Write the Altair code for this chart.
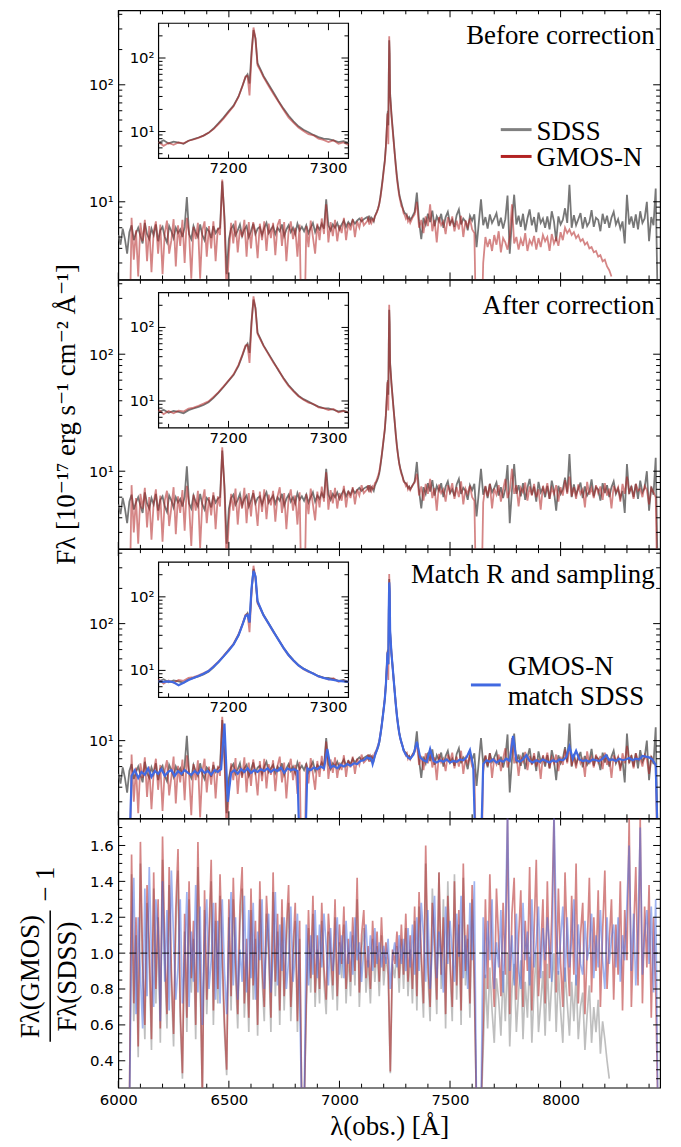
import math
import altair as alt
import pandas as pd

N = None

# ---------------- wavelength grids (Angstrom) ----------------
WAVE_A = list(range(6000, 7111, 15))                       # 75 points (matched spectrum)
WAVE_B = (list(range(7125, 7196, 5))                         # 15 points
          + [7200, 7205, 7210, 7214, 7217, 7219, 7221, 7223, 7225,
             7227, 7229, 7232, 7235, 7240, 7245]             # 15 points
          + list(range(7250, 7321, 5)))                      # 15 points
WAVE_C = list(range(7335, 8446, 15))                         # 75 points (matched spectrum)
WAVE = WAVE_A + WAVE_B + WAVE_C                              # grid of the matched spectrum
WAVE_A10 = list(range(6000, 7111, 10))                       # 112 points
WAVE_C10 = list(range(7330, 8441, 10))                       # 112 points
WAVE_D = WAVE_A10 + WAVE_B + WAVE_C10                        # grid of SDSS / GMOS spectra
RWAVE = list(range(6000, 8441, 10))                          # ratio grid, 245 points

# ---------------- fluxes (1e-17 erg/s/cm2/A), on WAVE_D ----------------
SDSS = [
    # 6000-7110 (10 A)
    5.2, 4.3, 5.9, 4.8, 3.6, 5.5, 6.3, 4.7, 5.4, 6.0, 5.1, 4.4, 6.6, 5.3,
    4.8, 5.9, 5.2, 6.4, 4.6, 5.7, 6.1, 5.0, 4.5, 6.2, 5.6, 4.9, 6.0, 5.4,
    5.8, 5.0, 6.1, 11.0, 5.3, 4.8, 6.2, 5.5, 5.0, 6.4, 5.2, 4.7, 5.9, 5.6,
    4.9, 6.2, 5.4, 5.8, 6.0, 15.0, 7.5, 2.4, 4.8, 5.9, 6.3, 5.2, 5.7, 6.4,
    5.1, 5.8, 6.2, 5.0, 5.6, 6.5, 5.3, 5.9, 6.1, 5.2, 6.0, 6.6, 5.4, 5.8,
    6.2, 5.3, 6.0, 5.6, 6.4, 5.1, 5.8, 6.3, 5.5, 6.0, 5.3, 6.5, 5.7, 6.1,
    5.6, 6.3, 5.4, 6.0, 6.6, 5.5, 6.2, 5.8, 6.5, 5.9, 10.5, 6.3, 5.7, 6.4,
    6.0, 6.6, 5.8, 6.4, 6.9, 6.1, 6.7, 6.3, 7.0, 6.5, 6.9, 7.2, 6.8, 7.1,
    # 7125-7320 (line core)
    7.4, 7.0, 7.6, 6.9, 7.3, 7.1, 6.8, 7.5, 7.9, 8.3, 8.8, 9.6, 11.0, 13.0, 15.5,
    18.8, 22.5, 30.0, 42.0, 55.0, 60.0, 45.0, 120.0, 240.0, 185.0, 85.0, 70.0, 57.0, 44.0, 34.0,
    26.0, 20.5, 16.5, 13.8, 11.8, 10.6, 9.8, 9.0, 8.4, 8.0, 7.9, 7.6, 7.2, 7.4, 7.0,
    # 7330-8440 (10 A)
    7.5, 8.2, 12.0, 6.8, 4.8, 7.3, 6.4, 7.9, 6.7, 8.4, 6.2, 7.5, 6.8, 7.9,
    6.0, 7.4, 8.2, 6.5, 7.0, 6.1, 7.7, 8.6, 6.4, 7.2, 6.8, 5.7, 7.6, 6.9,
    7.8, 4.1, 6.6, 10.5, 6.3, 7.4, 5.9, 7.8, 6.6, 7.2, 8.0, 6.2, 7.3, 5.9,
    7.1, 11.3, 3.6, 6.9, 11.5, 6.4, 7.6, 6.1, 7.9, 5.7, 7.2, 8.6, 6.3, 7.4,
    5.5, 8.1, 6.6, 7.2, 6.0, 7.5, 5.8, 8.3, 6.8, 4.6, 7.5, 6.4, 7.0, 8.8,
    6.6, 14.0, 6.0, 7.7, 6.3, 7.1, 8.0, 5.9, 7.4, 6.2, 6.7, 8.5, 6.1, 7.3,
    7.0, 5.6, 7.9, 6.5, 7.6, 6.0, 7.3, 8.2, 6.4, 7.1, 5.9, 6.8, 4.4, 11.5,
    6.4, 7.5, 6.0, 7.8, 5.8, 8.3, 6.6, 7.2, 10.0, 4.6, 7.4, 6.3, 13.0, 1.0,
]

GMOS_BEFORE = [
    N, N, N, N, N, 0.5, 7.3, 3.2, 5.7, 2.3, 6.6, 4.6, 7.0, 3.1,
    6.2, 2.5, 5.6, 6.8, 3.6, 6.4, 2.4, 5.4, 6.9, 3.6, 4.7, 7.1, 2.8, 6.3,
    4.2, 7.0, 3.0, 7.3, 5.4, 2.2, 6.1, 4.8, 6.6, 2.2, 5.7, 6.8, 3.4, 6.2,
    4.0, 6.8, 3.1, 6.0, 5.2, 15.5, 6.8, 1.5, 3.6, 6.6, 4.4, 6.9, 3.7, 5.8,
    5.0, 7.0, 3.4, 6.7, 4.0, 6.7, 5.5, 3.3, 6.5, 4.7, 6.8, 3.8, 6.5, 4.9,
    6.6, 3.5, 6.3, 7.1, 4.2, 6.7, 3.1, 5.6, 6.8, 4.8, 6.0, 3.4, 6.4, 0.5,
    0.5, 6.2, 4.1, 6.9, 5.0, 3.6, 6.5, 4.7, 7.2, 5.3, 9.5, 4.5, 6.7, 5.1,
    7.0, 4.6, 6.3, 5.4, 7.3, 4.7, 6.6, 5.7, 7.1, 5.0, 6.8, 6.0, 7.4, 6.3,
    6.8, 7.2, 6.4, 7.0, 6.6, 7.1, 6.9, 7.5, 7.8, 8.2, 8.8, 9.6, 10.8, 12.6, 15.0,
    18.2, 22.0, 29.5, 42.0, 56.0, 57.0, 31.0, 105.0, 260.0, 180.0, 80.0, 67.0, 55.0, 42.0, 32.5,
    25.5, 19.8, 15.6, 13.2, 11.3, 10.2, 9.2, 8.9, 8.0, 7.7, 7.2, 7.6, 6.8, 7.1, 6.6,
    7.3, 7.8, 10.0, 6.0, 7.0, 5.4, 7.5, 6.2, 9.5, 5.6, 7.0, 4.5, 7.4, 6.3,
    6.8, 5.3, 7.4, 6.2, 7.5, 5.6, 6.9, 5.8, 7.6, 5.0, 6.9, 6.1, 7.2, 5.8,
    5.4, 0.5, 0.5, 0.5, 3.0, 5.0, 4.1, 4.8, 3.8, 5.2, 4.3, 5.6, 3.7, 4.9,
    4.5, 3.9, 5.0, 9.5, 4.4, 5.0, 3.9, 4.8, 4.2, 5.4, 3.8, 4.7, 4.3, 5.1,
    3.9, 4.9, 4.1, 5.2, 4.6, 5.0, 3.8, 5.3, 4.4, 4.9, 4.2, 5.5, 4.7, 6.0,
    5.4, 5.8, 5.2, 5.5, 4.9, 5.2, 4.6, 4.8, 4.3, 4.5, 4.0, 4.1, 3.7, 3.8,
    3.4, 3.5, 3.1, 3.2, 2.8, 2.6, 2.3, N, N, N, N, N, N, N,
    N, N, N, N, N, N, N, N, N, N, N, N, N, N,
]

GMOS_AFTER = [
    N, N, N, N, N, 0.5, 7.6, 3.0, 5.9, 2.4, 6.4, 4.8, 7.2, 3.3,
    6.0, 2.6, 5.4, 7.0, 3.8, 6.2, 2.5, 5.6, 6.8, 3.4, 4.9, 7.3, 2.9, 6.1,
    4.4, 6.9, 3.1, 7.5, 5.2, 2.3, 6.3, 4.6, 6.8, 2.2, 5.5, 7.0, 3.6, 6.0,
    4.2, 6.6, 3.2, 6.1, 5.0, 16.0, 7.0, 1.5, 3.8, 6.4, 4.6, 7.1, 3.5, 6.0,
    4.8, 7.2, 3.6, 6.5, 4.1, 6.9, 5.3, 3.4, 6.7, 4.5, 7.0, 3.9, 6.3, 5.1,
    6.8, 3.7, 6.1, 7.3, 4.4, 6.5, 3.2, 5.8, 7.0, 4.6, 6.2, 3.5, 6.6, 0.5,
    0.5, 6.4, 4.3, 7.1, 5.2, 3.8, 6.7, 4.9, 7.4, 5.5, 9.8, 4.7, 6.9, 5.3,
    7.2, 4.8, 6.5, 5.6, 7.5, 4.9, 6.8, 5.9, 7.3, 5.2, 7.0, 6.2, 7.6, 6.5,
    7.0, 7.6, 6.6, 7.3, 6.8, 7.4, 7.2, 7.9, 8.1, 8.6, 9.2, 9.9, 11.4, 13.2, 15.8,
    19.0, 23.0, 31.0, 43.0, 57.0, 58.0, 33.0, 110.0, 265.0, 175.0, 82.0, 68.0, 56.0, 43.0, 33.0,
    26.5, 20.0, 16.0, 13.5, 11.6, 10.4, 9.5, 9.1, 8.2, 8.0, 7.5, 7.8, 7.0, 7.3, 6.9,
    7.6, 8.0, 9.5, 6.2, 7.4, 5.6, 7.8, 6.4, 8.6, 5.9, 7.2, 4.6, 7.7, 6.5,
    7.0, 5.5, 7.6, 6.6, 7.9, 5.8, 7.3, 6.0, 8.2, 5.2, 7.1, 6.4, 7.5, 6.0,
    5.6, 0.5, 0.5, 0.5, 5.4, 7.5, 6.1, 7.8, 4.8, 7.1, 6.3, 7.6, 5.5, 7.0,
    8.6, 5.9, 6.8, 10.5, 6.4, 7.6, 5.0, 7.2, 6.6, 8.0, 5.6, 7.4, 6.2, 7.8,
    6.0, 7.0, 4.7, 7.5, 6.5, 7.9, 5.8, 7.2, 6.4, 7.6, 5.5, 7.3, 6.2, 8.4,
    6.4, 9.0, 6.1, 7.3, 5.8, 7.7, 6.4, 7.0, 4.9, 8.1, 6.3, 7.2, 5.9, 7.6,
    6.5, 7.4, 5.7, 7.9, 6.2, 7.1, 4.8, 7.5, 6.6, 7.3, 5.5, 7.8, 6.4, 9.0,
    6.6, 7.3, 5.8, 7.8, 6.8, 7.1, 6.0, 7.5, 6.9, 5.2, 7.2, 6.6, 6.0, 0.5,
]

# matched-resolution GMOS spectrum, on WAVE (15 A steps outside the line core)
GMOS_MATCHED = [
    N, N, N, 0.5, 5.0, 5.6, 4.8, 5.4, 5.1, 5.8, 4.9, 5.5, 5.2, 5.7, 5.0,
    5.4, 5.6, 5.0, 5.5, 5.2, 5.6, 5.3, 5.1, 5.5, 5.2, 5.7, 5.3, 5.5, 5.1, 5.6,
    5.4, 5.7, 14.0, 3.0, 5.3, 5.6, 5.2, 5.7, 5.4, 5.8, 5.3, 5.6, 5.4, 5.7, 5.5,
    5.8, 5.4, 5.7, 5.5, 5.9, 5.3, 5.8, 5.6, 5.7, 5.5, 0.5, 0.5, 5.8, 5.6, 5.9,
    5.7, 6.0, 5.8, 8.5, 5.9, 6.1, 5.8, 6.2, 6.0, 6.3, 6.1, 6.4, 6.3, 6.7, 6.8,
    7.2, 7.1, 7.0, 7.1, 6.9, 6.3, 6.8, 7.4, 7.9, 8.4, 9.0, 9.8, 11.2, 13.0, 15.5,
    18.5, 22.5, 30.0, 42.0, 55.0, 57.0, 45.0, 130.0, 225.0, 190.0, 88.0, 70.0, 56.0, 43.5, 33.5,
    26.0, 20.2, 16.2, 13.6, 11.7, 10.5, 9.7, 9.0, 8.3, 7.9, 7.6, 7.4, 7.2, 7.1, 7.0,
    7.6, 9.8, 7.2, 6.8, 6.6, 8.5, 6.7, 6.5, 6.8, 6.6, 6.9, 6.5, 6.7, 6.6, 6.9,
    6.8, 7.2, 8.3, 6.0, 0.5, 0.5, 6.3, 6.8, 6.6, 6.9, 6.5, 6.8, 6.6, 7.0, 6.7,
    11.0, 6.8, 6.6, 6.9, 7.5, 6.7, 6.5, 6.8, 6.6, 6.9, 6.7, 6.5, 6.8, 6.6, 6.9,
    6.8, 7.2, 8.9, 7.0, 8.2, 6.9, 6.7, 6.8, 6.6, 6.9, 6.8, 6.7, 7.0, 7.5, 6.8,
    6.9, 6.7, 7.0, 6.8, 6.9, 7.1, 6.8, 7.0, 6.9, 7.4, 7.3, 7.2, 6.9, 6.2, 0.5,
]

# ---------------- flux ratios GMOS / SDSS (on RWAVE) ----------------
RATIO_BEFORE = [
    N, N, N, N, N, 0.1, 1.44, 0.62, 1.10, 0.42, 1.50, 0.88, 0.52, 1.28, 0.96,
    0.46, 1.36, 0.72, 1.20, 0.50, 1.52, 0.94, 0.58, 1.38, 0.82, 0.48, 1.14, 1.46, 0.62, 0.30,
    1.12, 0.56, 1.30, 0.78, 1.08, 0.52, 1.48, 0.84, 0.2, 1.24, 0.66, 1.02, 1.40, 0.60, 1.18,
    0.72, 1.32, 0.92, 0.56, 0.32, 1.20, 0.68, 1.30, 0.88, 0.58, 1.16, 1.36, 0.64, 1.00, 0.56,
    1.24, 0.74, 1.08, 0.54, 1.30, 0.86, 0.62, 1.22, 0.98, 0.56, 1.34, 0.76, 1.12, 0.60, 1.20,
    0.68, 1.04, 1.28, 0.62, 0.94, 1.18, 0.56, 1.08, 0.1, 0.1, 0.68, 1.14, 0.78, 1.22, 0.70,
    1.02, 0.72, 1.18, 0.84, 0.66, 1.12, 0.94, 0.74, 1.20, 0.68, 1.06, 0.86, 1.16, 0.72, 1.00,
    0.76, 1.10, 0.82, 1.30, 0.70, 1.02, 1.14, 0.78, 0.96, 0.72, 1.08, 0.84, 1.04, 0.76, 1.10,
    0.82, 0.98, 0.88, 0.33, 0.94, 0.86, 1.04, 0.78, 1.08, 0.80, 1.14, 0.76, 1.02, 0.72, 1.18,
    0.68, 1.26, 0.92, 0.64, 1.50, 0.88, 0.62, 1.36, 1.00, 0.66, 1.45, 0.80, 1.30, 0.58, 1.40,
    0.90, 0.62, 1.44, 0.74, 1.16, 0.60, 1.42, 0.82, 1.08, 0.64, 1.30, 0.78, 0.1, 0.1, 0.1,
    0.46, 0.88, 0.58, 0.92, 0.68, 0.50, 0.86, 0.74, 0.54, 0.90, 0.62, 1.00, 0.48, 0.80, 0.94,
    0.56, 0.78, 0.96, 0.52, 0.84, 0.64, 0.98, 0.50, 0.80, 1.00, 0.56, 0.72, 0.90, 0.54, 0.94,
    0.62, 0.84, 1.00, 0.56, 0.90, 0.68, 0.50, 0.92, 0.72, 0.54, 0.84, 0.62, 0.88, 0.52, 0.70,
    0.78, 0.46, 0.66, 0.82, 0.50, 0.70, 0.56, 0.74, 0.44, 0.62, 0.52, 0.40, 0.30, N, N,
    N, N, N, N, N, N, N, N, N, N, N, N, N, N, N,
    N, N, N, N, N,
]

RATIO_AFTER = [
    N, N, N, N, N, 0.1, 1.55, 0.72, 1.20, 0.48, 1.62, 0.95, 0.60, 1.38, 1.05,
    0.52, 1.45, 0.80, 1.30, 0.58, 1.65, 1.02, 0.66, 1.48, 0.90, 0.55, 1.25, 1.58, 0.70, 0.33,
    1.22, 0.64, 1.40, 0.86, 1.18, 0.60, 1.62, 0.92, 0.2, 1.35, 0.74, 1.10, 1.52, 0.68, 1.28,
    0.80, 1.44, 1.00, 0.62, 0.35, 1.30, 0.76, 1.42, 0.96, 0.66, 1.26, 1.48, 0.72, 1.08, 0.64,
    1.36, 0.82, 1.18, 0.60, 1.40, 0.94, 0.70, 1.32, 1.06, 0.64, 1.45, 0.84, 1.22, 0.68, 1.30,
    0.76, 1.14, 1.38, 0.70, 1.02, 1.28, 0.62, 1.18, 0.1, 0.1, 0.74, 1.24, 0.86, 1.32, 0.78,
    1.10, 0.80, 1.28, 0.92, 0.74, 1.22, 1.02, 0.82, 1.30, 0.76, 1.16, 0.94, 1.26, 0.80, 1.08,
    0.84, 1.20, 0.90, 1.42, 0.78, 1.10, 1.24, 0.86, 1.04, 0.80, 1.18, 0.92, 1.12, 0.84, 1.20,
    0.90, 1.06, 0.96, 0.34, 1.02, 0.94, 1.12, 0.86, 1.16, 0.88, 1.22, 0.84, 1.10, 0.80, 1.26,
    0.76, 1.34, 1.00, 0.72, 1.60, 0.96, 0.70, 1.28, 1.08, 0.74, 1.45, 0.88, 1.20, 0.66, 1.32,
    0.98, 0.70, 1.40, 0.82, 1.24, 0.68, 1.50, 0.90, 1.16, 0.72, 1.38, 0.86, 0.1, 0.1, 0.1,
    0.62, 1.30, 0.80, 1.44, 0.96, 0.70, 1.36, 1.06, 0.76, 1.28, 0.88, 1.75, 0.66, 1.22, 1.42,
    0.74, 1.08, 1.35, 0.70, 1.18, 0.90, 1.48, 0.68, 1.12, 1.52, 0.76, 1.00, 1.30, 0.72, 1.40,
    0.86, 1.20, 1.75, 0.78, 1.36, 0.94, 0.70, 1.45, 1.04, 0.76, 1.32, 0.88, 1.50, 0.72, 1.10,
    1.28, 0.66, 1.02, 1.42, 0.78, 1.20, 0.90, 1.35, 0.70, 1.12, 1.46, 0.80, 1.06, 1.30, 0.74,
    1.16, 0.88, 1.40, 0.68, 1.24, 0.96, 1.75, 0.70, 1.10, 1.48, 0.82, 1.75, 0.72, 1.26, 0.92,
    1.38, 0.64, 1.20, 0.80, 0.1,
]

RATIO_MATCHED = [
    N, N, N, N, N, 0.1, 1.05, 1.42, 0.66, 1.20, 0.88, 0.58, 1.36, 0.76, 1.48,
    1.00, 0.70, 1.30, 1.12, 0.62, 1.40, 0.84, 1.24, 0.68, 1.46, 1.08, 0.74, 0.92, 1.30, 0.72,
    0.96, 1.34, 0.70, 1.12, 0.84, 1.38, 0.78, 1.26, 0.60, 1.04, 1.30, 0.80, 0.96, 1.28, 0.74,
    1.18, 0.72, 1.30, 0.90, 0.66, 1.08, 1.34, 0.82, 1.20, 0.74, 1.02, 0.84, 1.32, 0.78, 1.24,
    0.86, 1.28, 0.74, 1.12, 0.96, 1.30, 0.80, 1.06, 1.22, 0.78, 0.98, 1.34, 0.82, 1.16, 0.90,
    1.20, 0.80, 0.96, 1.26, 0.84, 0.98, 1.22, 0.74, 0.1, 0.1, 1.16, 0.82, 1.10, 0.88, 1.24,
    0.86, 1.16, 0.92, 1.22, 1.04, 0.82, 1.14, 0.90, 1.04, 1.20, 0.88, 1.10, 0.86, 1.18, 0.94,
    1.12, 0.88, 1.20, 0.96, 1.06, 0.84, 1.02, 1.16, 0.92, 1.10, 0.90, 1.14, 0.94, 1.06, 0.92,
    1.04, 0.94, 1.08, 0.80, 0.98, 1.06, 0.92, 1.10, 0.94, 1.08, 0.90, 1.14, 0.92, 1.16, 0.88,
    1.20, 0.90, 1.28, 1.10, 0.84, 1.24, 0.80, 1.02, 1.32, 0.86, 1.12, 0.96, 0.78, 1.26, 0.94,
    1.18, 1.00, 0.84, 1.22, 0.98, 1.32, 0.86, 1.10, 0.80, 1.28, 0.96, 1.40, 0.1, 0.1, 0.1,
    1.20, 0.86, 1.18, 0.96, 1.30, 0.80, 1.06, 0.92, 1.24, 0.78, 1.12, 1.80, 0.90, 1.10, 0.82,
    1.22, 0.90, 0.80, 1.28, 0.96, 1.12, 0.82, 1.30, 0.92, 1.06, 1.26, 0.86, 1.14, 0.96, 1.20,
    1.04, 0.84, 1.80, 1.16, 0.88, 1.08, 1.26, 0.84, 1.20, 0.92, 1.08, 1.30, 0.82, 1.16, 0.94,
    0.88, 1.18, 0.96, 1.04, 1.22, 0.86, 1.10, 0.92, 1.24, 0.96, 0.80, 1.20, 0.94, 1.08, 1.16,
    0.92, 1.20, 0.84, 1.10, 0.96, 1.28, 1.60, 0.90, 1.22, 0.82, 1.12, 1.70, 0.88, 1.10, 1.24,
    0.94, 1.26, 0.78, 1.30, 0.1,
]

# ---------------- tick positions / labels ----------------
X_MAJOR = [6000, 6500, 7000, 7500, 8000]
X_MINOR = [6100, 6200, 6300, 6400, 6600, 6700, 6800, 6900, 7100, 7200, 7300,
           7400, 7600, 7700, 7800, 7900, 8100, 8200, 8300, 8400]
LOG_MAJOR = [10, 100]
LOG_MINOR = [3, 4, 5, 6, 7, 8, 9, 20, 30, 40, 50, 60, 70, 80, 90, 200, 300, 400]
IN_X_MAJOR = [7200, 7300]
IN_X_LABELS = ["7200", "7300"]
IN_X_MINOR = [7140, 7160, 7180, 7220, 7240, 7260, 7280]
IN_LOG_MINOR = [5, 6, 7, 8, 9, 20, 30, 40, 50, 60, 70, 80, 90, 200]
LOG_LABELS = ["10\u00b9", "10\u00b2"]
RATIO_MAJOR = [0.4, 0.6, 0.8, 1.0, 1.2, 1.4, 1.6]
RATIO_MINOR = [0.3, 0.35, 0.45, 0.5, 0.55, 0.65, 0.7, 0.75, 0.85, 0.9, 0.95,
               1.05, 1.1, 1.15, 1.25, 1.3, 1.35, 1.45, 1.5, 1.55, 1.65, 1.7]

# ---------------- geometry / style ----------------
W, H = 545, 270.7
XMIN, XMAX = 6000, 8450
YMIN, YMAX = 2.17, 433
RMIN, RMAX = 0.25, 1.75
IX0, IX1, IY0, IY1 = 40.5, 231.5, 13, 149       # inset frame inside a panel (px)
IXMIN, IXMAX = 7130, 7320
IYMIN, IYMAX = 4.31, 297
MAJ, MINL = 7, 4

GRAY = "#777777"
RED = "#b22222"
BLUE = "#4169e1"
SERIF = "Liberation Serif, Times New Roman, Times, DejaVu Serif, serif"
SANS = "DejaVu Sans"
TSIZE = 27
LW = 1.8

XS = alt.Scale(domain=[XMIN, XMAX], nice=False, zero=False)
YS = alt.Scale(type="log", domain=[YMIN, YMAX], nice=False)
RS = alt.Scale(domain=[RMIN, RMAX], nice=False, zero=False)

kx = (IXMAX - IXMIN) / (IX1 - IX0)
XS_IN = alt.Scale(domain=[IXMIN - IX0 * kx, IXMAX + (W - IX1) * kx], nice=False, zero=False)
ly = (math.log10(IYMAX) - math.log10(IYMIN)) / (IY1 - IY0)
YS_IN = alt.Scale(type="log",
                  domain=[10 ** (math.log10(IYMIN) - (H - IY1) * ly),
                          10 ** (math.log10(IYMAX) + IY0 * ly)],
                  nice=False)

ONE = pd.DataFrame({"k": [0]})

NOAXIS = None
YAXIS_LOG = alt.Axis(values=LOG_MAJOR, labelExpr="datum.value < 50 ? '10\u00b9' : '10\u00b2'",
                     ticks=False, domain=False, grid=False, labelFont=SANS, labelFontSize=15,
                     labelPadding=5, labelColor="black", title=None)
XAXIS = alt.Axis(values=X_MAJOR, format="d", ticks=False, domain=False, grid=False,
                 labelFont=SANS, labelFontSize=15, labelPadding=5, labelFlush=False,
                 labelColor="black", title="\u03bb(obs.) [\u00c5]", titleFont=SERIF,
                 titleFontSize=TSIZE, titleFontWeight="normal", titleColor="black", titlePadding=6)
RAXIS = alt.Axis(values=RATIO_MAJOR, format=".1f", ticks=False, domain=False, grid=False,
                 labelFont=SANS, labelFontSize=15, labelPadding=5, labelColor="black", title=None)


def enc_x(field, scale, axis):
    if axis is None:
        return alt.X(field, scale=scale, axis=None)
    return alt.X(field, scale=scale, axis=axis)


def enc_y(field, scale, axis):
    if axis is None:
        return alt.Y(field, scale=scale, axis=None)
    return alt.Y(field, scale=scale, axis=axis)


def spec_df(values, grid):
    return pd.DataFrame({"w": grid, "f": values}).dropna()


def inset_df(values, grid):
    d = spec_df(values, grid)
    return d[(d.w >= IXMIN) & (d.w <= IXMAX)]


def line(df, sx, sy, color, opacity, width, xaxis, yaxis, clip=True):
    return alt.Chart(df).mark_line(color=color, opacity=opacity, strokeWidth=width,
                                   clip=clip).encode(x=enc_x("w:Q", sx, xaxis), y=enc_y("f:Q", sy, yaxis))


def xticks(vals, length, sx, ytop, ybot, axis):
    b = alt.Chart(pd.DataFrame({"t": vals})).mark_rule(color="black", strokeWidth=1)
    return [b.encode(x=enc_x("t:Q", sx, axis), y=alt.value(ytop), y2=alt.value(ytop + length)),
            b.encode(x=enc_x("t:Q", sx, axis), y=alt.value(ybot), y2=alt.value(ybot - length))]


def yticks(vals, length, sy, xl, xr, axis):
    b = alt.Chart(pd.DataFrame({"t": vals})).mark_rule(color="black", strokeWidth=1)
    return [b.encode(y=enc_y("t:Q", sy, axis), x=alt.value(xl), x2=alt.value(xl + length)),
            b.encode(y=enc_y("t:Q", sy, axis), x=alt.value(xr), x2=alt.value(xr - length))]


def text(t, x, y, size=TSIZE, align="left", baseline="alphabetic", angle=0, font=SERIF):
    return alt.Chart(ONE).mark_text(text=t, align=align, baseline=baseline, font=font,
                                    fontSize=size, angle=angle, color="black").encode(
        x=alt.value(x), y=alt.value(y))


def hrule(x1, x2, y, color, width=3):
    return alt.Chart(ONE).mark_rule(color=color, strokeWidth=width).encode(
        x=alt.value(x1), x2=alt.value(x2), y=alt.value(y))


def anchor():
    return alt.Chart(ONE).mark_rule(color="white", strokeWidth=1).encode(
        x=alt.value(-117), y=alt.value(0), y2=alt.value(2))


def spectra_panel(series, label, extra):
    main = []
    for vals, grid, color, op, wd in series:
        main.append(line(spec_df(vals, grid), XS, YS, color, op, wd, NOAXIS, YAXIS_LOG))
    main += xticks(X_MAJOR, MAJ, XS, 0, H, NOAXIS) + xticks(X_MINOR, MINL, XS, 0, H, NOAXIS)
    main += yticks(LOG_MAJOR, MAJ, YS, 0, W, YAXIS_LOG) + yticks(LOG_MINOR, MINL, YS, 0, W, YAXIS_LOG)
    main.append(text(label, W - 5.5, 34, align="right"))
    main += extra
    main.append(anchor())

    frame = alt.Chart(pd.DataFrame({"x1": [IXMIN], "x2": [IXMAX], "y1": [IYMIN], "y2": [IYMAX]})).mark_rect(
        fill="white", stroke="black", strokeWidth=1.2).encode(
        x=alt.X("x1:Q", scale=XS_IN, axis=None), x2="x2:Q",
        y=alt.Y("y1:Q", scale=YS_IN, axis=None), y2="y2:Q")
    ins = [frame]
    for vals, grid, color, op, wd in series:
        ins.append(line(inset_df(vals, grid), XS_IN, YS_IN, color, op, wd, NOAXIS, NOAXIS, clip=False))
    ins += xticks(IN_X_MAJOR, MAJ, XS_IN, IY0, IY1, NOAXIS) + xticks(IN_X_MINOR, MINL, XS_IN, IY0, IY1, NOAXIS)
    ins += yticks(LOG_MAJOR, MAJ, YS_IN, IX0, IX1, NOAXIS) + yticks(IN_LOG_MINOR, MINL, YS_IN, IX0, IX1, NOAXIS)
    ins.append(alt.Chart(pd.DataFrame({"t": IN_X_MAJOR, "lab": IN_X_LABELS})).mark_text(
        font=SANS, fontSize=15, align="center", baseline="middle", color="black").encode(
        x=alt.X("t:Q", scale=XS_IN, axis=None), y=alt.value(IY1 + 10), text="lab:N"))
    ins.append(alt.Chart(pd.DataFrame({"t": LOG_MAJOR, "lab": LOG_LABELS})).mark_text(
        font=SANS, fontSize=15, align="right", baseline="middle", color="black").encode(
        y=alt.Y("t:Q", scale=YS_IN, axis=None), x=alt.value(IX0 - 4), text="lab:N"))

    return alt.layer(alt.layer(*main), alt.layer(*ins)).resolve_scale(
        x="independent", y="independent").properties(width=W, height=H)


# Panel 1: before correction
p1 = spectra_panel(
    [(SDSS, WAVE_D, GRAY, 1.0, LW), (GMOS_BEFORE, WAVE_D, RED, 0.55, LW)],
    "Before correction",
    [hrule(384.7, 415.7, 120, "#808080"), text("SDSS", 420.7, 130),
     hrule(384.7, 415.7, 147, RED), text("GMOS-N", 420.7, 157)])

# Panel 2: after correction
p2 = spectra_panel(
    [(SDSS, WAVE_D, GRAY, 1.0, LW), (GMOS_AFTER, WAVE_D, RED, 0.55, LW)],
    "After correction",
    [text("F\u03bb [10\u207b\u00b9\u2077 erg s\u207b\u00b9 cm\u207b\u00b2 \u00c5\u207b\u00b9]",
          -52, H / 2, size=TSIZE, align="center", baseline="middle", angle=270)])

# Panel 3: matched resolution and sampling
p3 = spectra_panel(
    [(SDSS, WAVE_D, GRAY, 1.0, LW), (GMOS_AFTER, WAVE_D, RED, 0.55, LW),
     (GMOS_MATCHED, WAVE, BLUE, 1.0, 2.2)],
    "Match R and sampling",
    [hrule(354.7, 384.7, 136.6, BLUE), text("GMOS-N", 391.7, 126.6),
     text("match SDSS", 391.7, 156.6)])

# Panel 4: ratios
RLW = 1.7
ratio_layers = [
    line(spec_df(RATIO_BEFORE, RWAVE), XS, RS, "#808080", 0.5, RLW, XAXIS, RAXIS),
    line(spec_df(RATIO_AFTER, RWAVE), XS, RS, RED, 0.55, RLW, XAXIS, RAXIS),
    line(spec_df(RATIO_MATCHED, RWAVE), XS, RS, BLUE, 0.5, RLW, XAXIS, RAXIS),
    alt.Chart(pd.DataFrame({"x1": [6050], "x2": [8440], "v": [1.0]})).mark_rule(
        color="black", strokeDash=[7, 4], strokeWidth=1.2, opacity=0.75).encode(
        x=enc_x("x1:Q", XS, XAXIS), x2="x2:Q", y=enc_y("v:Q", RS, RAXIS)),
]
ratio_layers += xticks(X_MAJOR, MAJ, XS, 0, H, XAXIS) + xticks(X_MINOR, MINL, XS, 0, H, XAXIS)
ratio_layers += yticks(RATIO_MAJOR, MAJ, RS, 0, W, RAXIS) + yticks(RATIO_MINOR, MINL, RS, 0, W, RAXIS)
ratio_layers += [
    text("F\u03bb(GMOS)", -88, 159, align="center", baseline="middle", angle=270),
    alt.Chart(ONE).mark_rule(color="black", strokeWidth=1.5).encode(
        x=alt.value(-68.5), y=alt.value(92.5), y2=alt.value(224.5)),
    text("F\u03bb(SDSS)", -51, 159, align="center", baseline="middle", angle=270),
    text("\u2212 1", -73, 66, align="center", baseline="middle", angle=270),
    anchor(),
]
p4 = alt.layer(*ratio_layers).properties(width=W, height=H)

chart = alt.vconcat(p1, p2, p3, p4, spacing=0, bounds="flush").properties(
    padding={"left": 0, "top": 5, "right": 19, "bottom": 5},
    background="white",
).configure_view(stroke="black", strokeWidth=1.2)

chart.save("out.html", embed_options={"renderer": "svg", "actions": False})
